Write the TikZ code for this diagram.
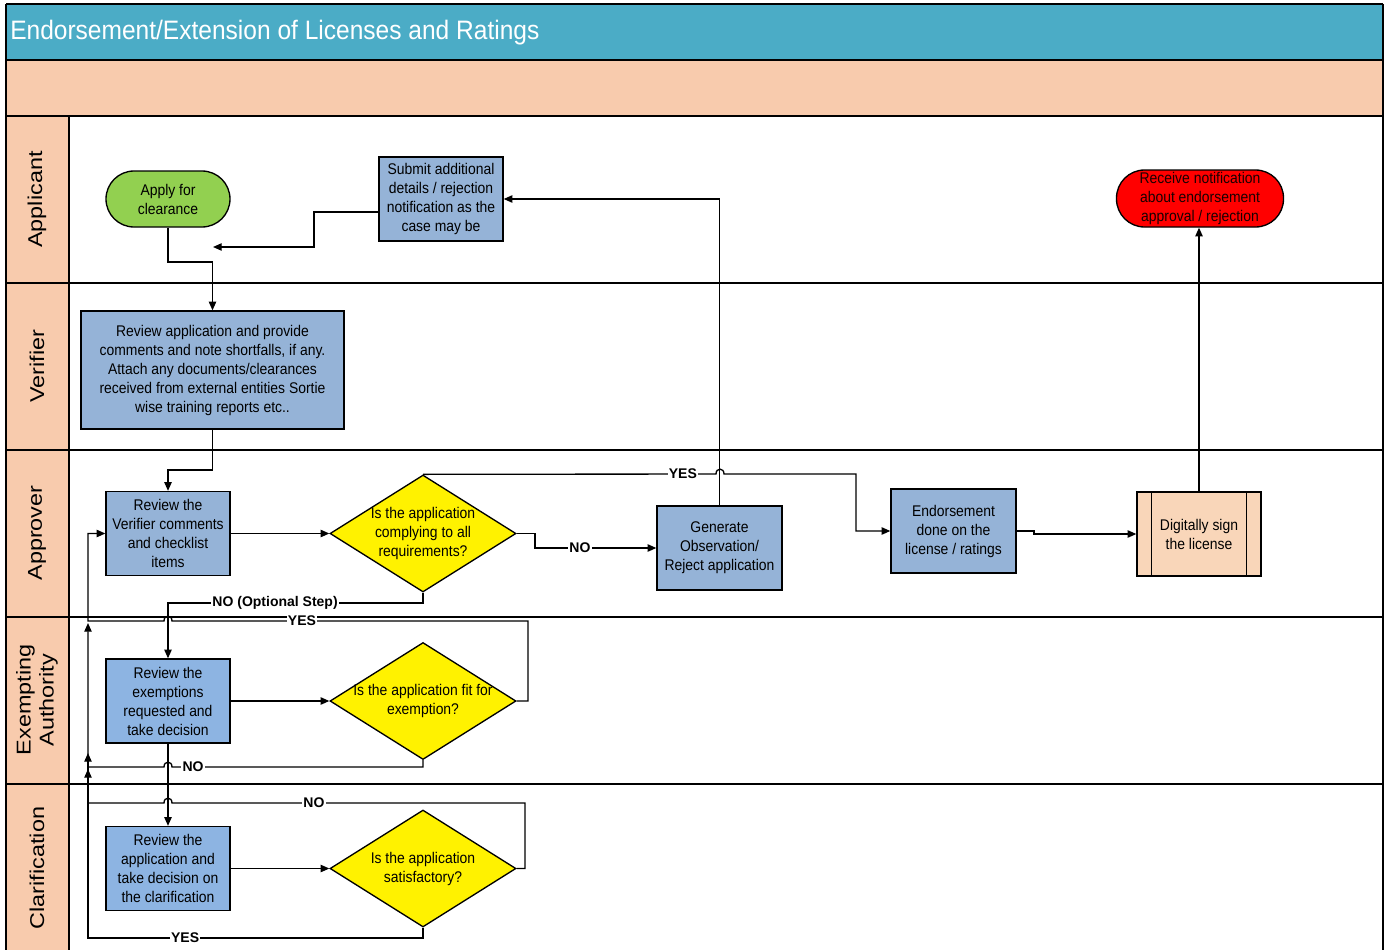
\documentclass[tikz,border=0pt]{standalone}
\usepackage{fontspec}
\setmainfont{Liberation Sans}
\newfontfamily\lanefont[FakeStretch=1.17]{Liberation Sans}
\newfontfamily\condfont[FakeStretch=0.9]{Liberation Sans}
\newfontfamily\titlefont[FakeStretch=0.92]{Liberation Sans}
\usetikzlibrary{shapes.geometric,arrows.meta,calc}
\definecolor{titleteal}{HTML}{4BACC6}
\definecolor{peach}{HTML}{F8CBAD}
\definecolor{lightpeach}{HTML}{F9D6B9}
\definecolor{greyblue}{HTML}{95B3D7}
\definecolor{brightblue}{HTML}{8DB4E2}
\definecolor{appgreen}{HTML}{92D050}
\newcommand\bxfont{\condfont\fontsize{11.6pt}{14.25pt}\selectfont}
\newcommand\lnfont{\lanefont\fontsize{15pt}{17.25pt}\selectfont}
\tikzset{
  conn/.style={draw=black, line width=1pt, -{Triangle[length=6.5pt,width=5.5pt]}},
  plain/.style={draw=black, line width=1pt},
  lane/.style={draw=black, line width=1.5pt},
  box/.style={draw=black, line width=1pt, inner sep=0pt, align=center, font=\bxfont,
    minimum width=124*0.75pt, minimum height=84*0.75pt},
  stadium/.style={draw=black, line width=1pt, inner sep=0pt, align=center, font=\bxfont,
    rounded corners=21pt},
  decision/.style={shape=diamond, draw=black, line width=1pt, fill=yellow, inner sep=0pt,
    minimum width=186*0.75pt, minimum height=117*0.75pt},
  dtext/.style={align=center, font=\bxfont, inner sep=0pt},
  lbl/.style={fill=white, inner sep=1pt, font=\bfseries\fontsize{10.5pt}{12pt}\selectfont},
  lanelbl/.style={rotate=90, align=center, font=\lnfont, inner sep=0pt}
}
\begin{document}
\begin{tikzpicture}[x=0.75pt,y=-0.75pt]
\useasboundingbox (0,0) rectangle (1387,949);
% frame, title and band
\fill[titleteal] (6,4) rectangle (1383,60);
\fill[peach] (6,60) rectangle (1383,116);
\fill[peach] (6,116) rectangle (69,951);
\node[anchor=west, text=white, inner sep=0pt, font=\titlefont\fontsize{20pt}{22pt}\selectfont] (title) at (10,33) {Endorsement/Extension of Licenses and Ratings};
\draw[lane] (6,4) -- (1383,4);
\draw[lane] (6,60) -- (1383,60);
\foreach \yy in {116,283,450,617,784} {\draw[lane] (6,\yy) -- (1383,\yy);}
\draw[lane] (6,4) -- (6,951);
\draw[lane] (1383,4) -- (1383,951);
\draw[lane] (69,116) -- (69,951);
% lane labels
\node[lanelbl] (lA) at (37,199.5) {Applicant};
\node[lanelbl] (lV) at (37,366) {Verifier};
\node[lanelbl] (lP) at (37,533) {Approver};
\node[lanelbl] (lE) at (37,700) {Exempting\\Authority};
\node[lanelbl] (lC) at (37,868) {Clarification};
% nodes
\node[stadium, fill=appgreen, minimum width=124*0.75pt, minimum height=56*0.75pt] (apply) at (168,199) {Apply for\\clearance};
\node[box, fill=greyblue] (sub) at (441,199) {Submit additional\\details / rejection\\notification as the\\case may be};
\node[stadium, fill=red, text=black!90!red, minimum width=167*0.75pt, minimum height=57*0.75pt] (rec) at (1200,198.5) {Receive notification\\about endorsement\\approval / rejection};
\node[box, fill=greyblue, minimum width=263*0.75pt, minimum height=118*0.75pt] (rv) at (212.5,370) {Review application and provide\\comments and note shortfalls, if any.\\Attach any documents/clearances\\received from external entities Sortie\\wise training reports etc..};
\node[box, fill=greyblue] (rvc) at (168,533.5) {Review the\\Verifier comments\\and checklist\\items};
\node[decision] (d1) at (423,533.5) {};
\node[dtext] (d1t) at (423,533.5) {Is the application\\complying to all\\requirements?};
\node[box, fill=greyblue, minimum width=125*0.75pt] (gen) at (719.5,548) {Generate\\Observation/\\Reject application};
\node[box, fill=greyblue, minimum width=125*0.75pt] (end) at (953.5,531) {Endorsement\\done on the\\license / ratings};
\node[box, fill=lightpeach] (ds) at (1199,534) {Digitally sign\\the license};
\draw[line width=1pt] ($(ds.north west)+(15,0)$) -- ($(ds.south west)+(15,0)$);
\draw[line width=1pt] ($(ds.north east)+(-15,0)$) -- ($(ds.south east)+(-15,0)$);
\node[box, fill=brightblue] (ex) at (168,701) {Review the\\exemptions\\requested and\\take decision};
\node[decision] (d2) at (423,701) {};
\node[dtext] (d2t) at (423,701) {Is the application fit for\\exemption?};
\node[box, fill=brightblue] (cl) at (168,868.5) {Review the\\application and\\take decision on\\the clarification};
\node[decision] (d3) at (423,868.5) {};
\node[dtext] (d3t) at (423,868.5) {Is the application\\satisfactory?};
% free ends
\coordinate (retA) at (213,247);
\coordinate (upA) at (88,623);
\coordinate (upB) at (88,753);
\coordinate (upC) at (88,769);
% connectors
\draw[conn] (apply.south) -- (168,262) -| (rv.north);
\draw[conn] ($(sub.west)+(0,13)$) -- (314,212) -- (314,247) -- (retA);
\draw[conn] (gen.north) |- (sub.east);
\draw[conn] (rv.south) -- (212.5,470) -| (rvc.north);
\draw[conn] (rvc.east) -- (d1.west);
\draw[conn] (d1.north) -- node[lbl,pos=0.887]{YES} (716,474) .. controls (716,467.5) and (724,467.5) .. (724,474) -- (856,474) |- (end.west);
\draw[conn] (d1.east) -- (535,533.5) -- (535,548) -- node[lbl,pos=0.37]{NO} (gen.west);
\draw[conn] (d1.south) -- (423,603) -- node[lbl,pos=0.58]{NO (Optional Step)} (168,603) -- (ex.north);
\draw[conn] (end.east) -- (1034,531) -- (1034,534) -- (ds.west);
\draw[conn] (ds.north) -- (ds.north |- rec.south);
\draw[conn] (ex.east) -- (d2.west);
\draw[conn] (d2.east) -- (528,701) -- (528,621) -- node[lbl,pos=0.635]{YES} (172,621) .. controls (172,614.5) and (164,614.5) .. (164,621) -- (88,621) -- (88,533.5) -- (rvc.west);
\draw[conn] (d2.south) -- (423,767) -- node[lbl,pos=0.916]{NO} (172,767) .. controls (172,760.5) and (164,760.5) .. (164,767) -- (88,767) -- (upA);
\draw[conn] (ex.south) -- (cl.north);
\draw[conn] (cl.east) -- (d3.west);
\draw[conn] (d3.east) -- (525,868.5) -- (525,803) -- node[lbl,pos=0.598]{NO} (172,803) .. controls (172,796.5) and (164,796.5) .. (164,803) -- (88,803) -- (upC);
\draw[conn] (d3.south) -- (423,938) -- node[lbl,pos=0.71]{YES} (88,938) -- (upB);
\end{tikzpicture}
\end{document}
